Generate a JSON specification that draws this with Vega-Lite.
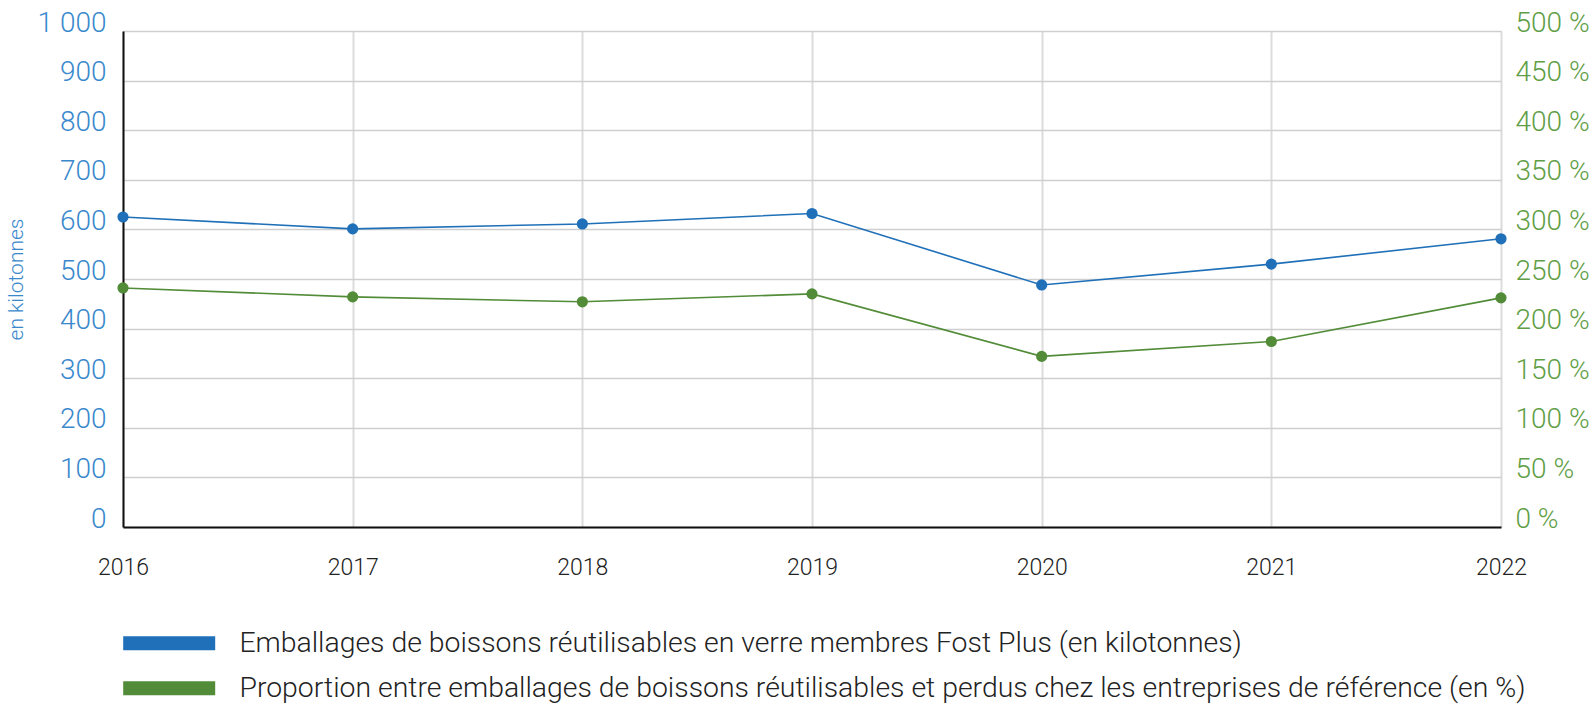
{
  "$schema": "https://vega.github.io/schema/vega-lite/v6.json",
  "width": 1378,
  "height": 496,
  "autosize": "none",
  "padding": {"left": 123, "top": 31, "right": 94, "bottom": 177},
  "background": "white",
  "config": {
    "view": {"stroke": null},
    "font": "Roboto"
  },
  "data": {
    "values": [
      {"year": 2016, "kt": 625, "pct": 241},
      {"year": 2017, "kt": 601, "pct": 232},
      {"year": 2018, "kt": 611, "pct": 227},
      {"year": 2019, "kt": 632, "pct": 235},
      {"year": 2020, "kt": 488, "pct": 172},
      {"year": 2021, "kt": 530, "pct": 187},
      {"year": 2022, "kt": 581, "pct": 231}
    ]
  },
  "encoding": {
    "x": {
      "field": "year",
      "type": "quantitative",
      "scale": {"domain": [2016, 2022], "nice": false, "zero": false},
      "axis": {
        "values": [2016, 2017, 2018, 2019, 2020, 2021, 2022],
        "format": "d",
        "title": null,
        "ticks": false,
        "domainColor": "#111",
        "domainWidth": 2,
        "grid": true,
        "gridColor": "#dcdcdc",
        "gridWidth": 2,
        "labelFont": "Roboto",
        "labelFontWeight": 300,
        "labelFontSize": 23,
        "labelColor": "#222",
        "labelPadding": 29,
        "labelFlush": false
      }
    }
  },
  "layer": [
    {
      "encoding": {
        "y": {
          "field": "kt",
          "type": "quantitative",
          "scale": {"domain": [0, 1000], "nice": false},
          "axis": {
            "orient": "left",
            "values": [0, 100, 200, 300, 400, 500, 600, 700, 800, 900, 1000],
            "labelExpr": "datum.value == 1000 ? '1 000' : datum.label",
            "title": "en kilotonnes",
            "titleFont": "Roboto",
            "titleFontWeight": 300,
            "titleFontSize": 21,
            "titleColor": "#3a88cc",
            "titleAngle": -90,
            "titleX": -97,
            "titleY": 248,
            "titleAlign": "center",
            "titleBaseline": "bottom",
            "ticks": false,
            "domainColor": "#111",
            "domainWidth": 2,
            "grid": true,
            "gridColor": "#cfcfcf",
            "gridWidth": 1.5,
            "labelFont": "Roboto",
            "labelFontWeight": 300,
            "labelFontSize": 28,
            "labelColor": "#3a88cc",
            "labelPadding": 17,
            "labelBaseline": "alphabetic",
            "labelFlush": false
          }
        }
      },
      "layer": [
        {
          "mark": {"type": "line", "color": "#1f70b8", "strokeWidth": 1.6}
        },
        {
          "mark": {"type": "point", "filled": true, "opacity": 1, "size": 125},
          "encoding": {
            "color": {
              "datum": "Emballages de boissons réutilisables en verre membres Fost Plus (en kilotonnes)",
              "type": "nominal",
              "scale": {
                "domain": [
                  "Emballages de boissons réutilisables en verre membres Fost Plus (en kilotonnes)",
                  "Proportion entre emballages de boissons réutilisables et perdus chez les entreprises de référence (en %)"
                ],
                "range": ["#1f70b8", "#528c38"]
              },
              "legend": {
                "title": null,
                "orient": "none",
                "legendX": 32,
                "legendY": 598,
                "direction": "vertical",
                "symbolType": "M-6.571,-1L6.571,-1L6.571,1L-6.571,1Z",
                "symbolSize": 196,
                "symbolStrokeWidth": 0,
                "symbolOpacity": 1,
                "labelFont": "Roboto",
                "labelFontWeight": 300,
                "labelFontSize": 28.4,
                "labelColor": "#222",
                "labelOffset": 56,
                "labelLimit": 1450,
                "rowPadding": 16
              }
            }
          }
        }
      ]
    },
    {
      "encoding": {
        "y": {
          "field": "pct",
          "type": "quantitative",
          "scale": {"domain": [0, 500], "nice": false},
          "axis": {
            "orient": "right",
            "values": [0, 50, 100, 150, 200, 250, 300, 350, 400, 450, 500],
            "labelExpr": "datum.value + ' %'",
            "title": null,
            "ticks": false,
            "domain": false,
            "grid": false,
            "labelFont": "Roboto",
            "labelFontWeight": 300,
            "labelFontSize": 28,
            "labelColor": "#5f9e46",
            "labelPadding": 14,
            "labelBaseline": "alphabetic",
            "labelFlush": false
          }
        }
      },
      "layer": [
        {
          "mark": {"type": "line", "color": "#528c38", "strokeWidth": 1.6}
        },
        {
          "mark": {"type": "point", "filled": true, "opacity": 1, "size": 125},
          "encoding": {
            "color": {
              "datum": "Proportion entre emballages de boissons réutilisables et perdus chez les entreprises de référence (en %)",
              "type": "nominal"
            }
          }
        }
      ]
    }
  ],
  "resolve": {"scale": {"y": "independent", "color": "shared"}, "axis": {"y": "independent"}}
}
